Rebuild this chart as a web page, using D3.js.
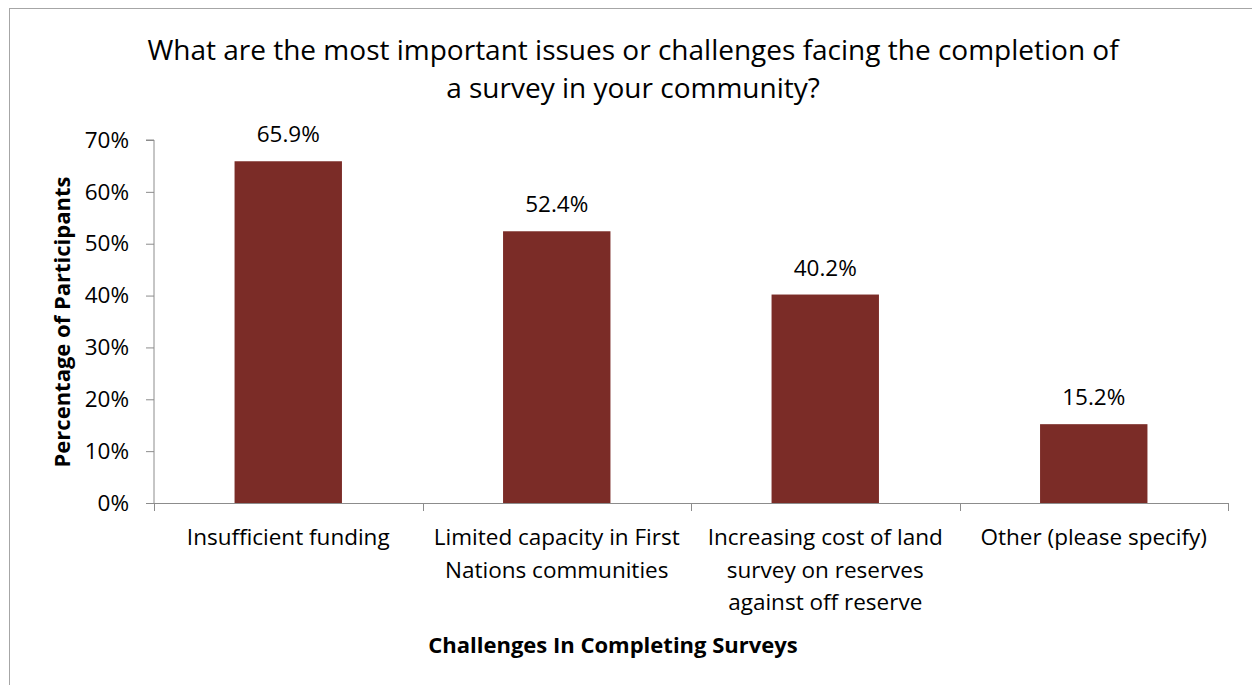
<!DOCTYPE html>
<html>
<head>
<meta charset="utf-8">
<script src="https://cdn.jsdelivr.net/npm/d3@7"></script>
<style>
  html, body { margin: 0; padding: 0; background: #fff; }
  svg { display: block; font-family: "Open Sans", Lato, sans-serif; }
</style>
</head>
<body>
<svg id="chart" width="1252" height="685"></svg>
<script>
// Survey responses: challenges in completing a land survey
const categories = [
  ["Insufficient funding"],
  ["Limited capacity in First", "Nations communities"],
  ["Increasing cost of land", "survey on reserves", "against off reserve"],
  ["Other (please specify)"]
];
const values = [65.9, 52.4, 40.2, 15.2];
const yTicks = [0, 10, 20, 30, 40, 50, 60, 70];
const titleLines = [
  "What are the most important issues or challenges facing the completion of",
  "a survey in your community?"
];
const yTitle = "Percentage of Participants";
const xTitle = "Challenges In Completing Surveys";

const svg = d3.select("#chart");
const plot = { left: 154, right: 1228, top: 140, bottom: 503 };
const barColor = "#7B2C27";
const axisColor = "#8c8c8c";
const fontLabel = 22.5;
const fontAxisTitle = 22;

// outer frame
svg.append("rect")
  .attr("x", 9.5).attr("y", 8.5)
  .attr("width", 1260).attr("height", 700)
  .attr("fill", "none").attr("stroke", "#a6a6a6").attr("stroke-width", 1);

const x = d3.scaleBand()
  .domain(d3.range(categories.length))
  .range([plot.left, plot.right])
  .paddingInner(0.6).paddingOuter(0.3);

const y = d3.scaleLinear().domain([0, 70]).range([plot.bottom, plot.top]);

// title
svg.append("text")
  .attr("text-anchor", "middle")
  .attr("font-size", 28)
  .attr("fill", "#000")
  .selectAll("tspan").data(titleLines).join("tspan")
  .attr("x", 633).attr("y", (d, i) => 60 + i * 38)
  .text(d => d);

// bars
svg.append("g").selectAll("rect").data(values).join("rect")
  .attr("x", (d, i) => x(i))
  .attr("y", d => y(d))
  .attr("width", x.bandwidth())
  .attr("height", d => y(0) - y(d))
  .attr("fill", barColor);

// value labels
svg.append("g").selectAll("text").data(values).join("text")
  .attr("x", (d, i) => x(i) + x.bandwidth() / 2)
  .attr("y", d => y(d) - 19)
  .attr("text-anchor", "middle")
  .attr("font-size", fontLabel)
  .attr("fill", "#000")
  .text(d => d.toFixed(1) + "%");

// y axis
const yAxis = d3.axisLeft(y)
  .tickValues(yTicks)
  .tickFormat(d => d + "%")
  .tickSize(8)
  .tickPadding(17);
const gy = svg.append("g").attr("transform", `translate(${plot.left},0)`).call(yAxis);
gy.select(".domain").attr("stroke", axisColor).attr("d", `M-8,${plot.top}H0V${plot.bottom}`);
gy.selectAll(".tick line").attr("stroke", axisColor);
gy.selectAll(".tick text").attr("font-size", fontLabel).attr("fill", "#000")
  .attr("font-family", "'Open Sans', Lato, sans-serif");

// x axis with category boundary ticks
const step = (plot.right - plot.left) / categories.length;
const gx = svg.append("g");
gx.append("line")
  .attr("x1", plot.left - 8).attr("x2", plot.right)
  .attr("y1", plot.bottom + 0.5).attr("y2", plot.bottom + 0.5)
  .attr("stroke", axisColor);
gx.selectAll("line.tk").data(d3.range(categories.length + 1)).join("line")
  .attr("class", "tk")
  .attr("x1", i => Math.round(plot.left + i * step) + 0.5)
  .attr("x2", i => Math.round(plot.left + i * step) + 0.5)
  .attr("y1", plot.bottom).attr("y2", plot.bottom + 8)
  .attr("stroke", axisColor);

// category labels
gx.selectAll("text.cat").data(categories).join("text")
  .attr("class", "cat")
  .attr("text-anchor", "middle")
  .attr("font-size", fontLabel)
  .attr("fill", "#000")
  .each(function (lines, i) {
    const cx = x(i) + x.bandwidth() / 2;
    d3.select(this).selectAll("tspan").data(lines).join("tspan")
      .attr("x", cx)
      .attr("y", (d, j) => 545 + j * 32.5)
      .text(d => d);
  });

// axis titles
svg.append("text")
  .attr("transform", "translate(70,322) rotate(-90)")
  .attr("text-anchor", "middle")
  .attr("font-size", fontAxisTitle)
  .attr("font-weight", "bold")
  .attr("fill", "#000")
  .text(yTitle);

svg.append("text")
  .attr("x", 613).attr("y", 653)
  .attr("text-anchor", "middle")
  .attr("font-size", fontAxisTitle)
  .attr("font-weight", "bold")
  .attr("fill", "#000")
  .text(xTitle);
</script>
</body>
</html>
